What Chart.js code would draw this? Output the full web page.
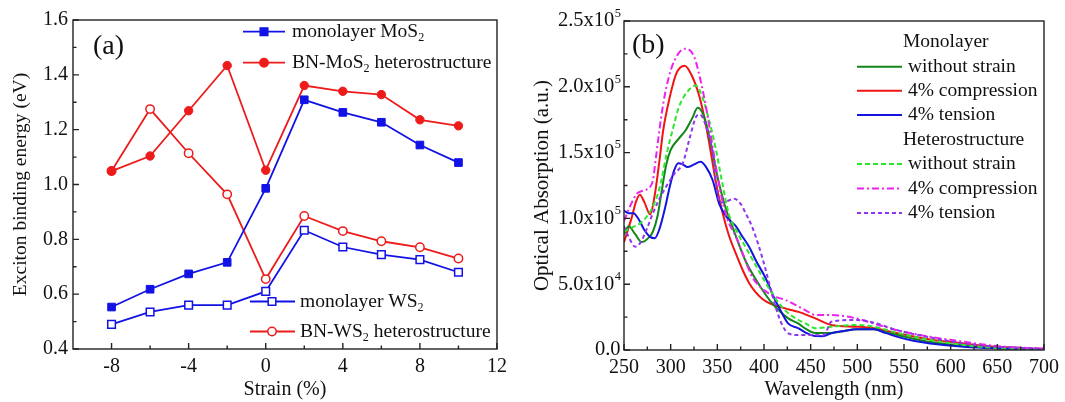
<!DOCTYPE html>
<html><head><meta charset="utf-8">
<script src="https://cdn.jsdelivr.net/npm/chart.js@4.4.1/dist/chart.umd.min.js"></script>
<style>
html,body{margin:0;padding:0;background:#fff;width:1065px;height:402px;overflow:hidden}
#ca{position:absolute;left:0;top:0}
#cb{position:absolute;left:530px;top:0}
</style></head><body>
<canvas id="ca" width="530" height="402"></canvas>
<canvas id="cb" width="535" height="402"></canvas>
<script>
// ---------- Panel (a) data ----------
const strain = [-8, -6, -4, -2, 0, 2, 4, 6, 8, 10];
const monoMoS2 = [0.553, 0.618, 0.674, 0.716, 0.986, 1.309, 1.263, 1.227, 1.144, 1.08];
const bnMoS2   = [1.049, 1.104, 1.269, 1.434, 1.052, 1.361, 1.340, 1.328, 1.236, 1.214];
const monoWS2  = [0.49, 0.535, 0.56, 0.56, 0.61, 0.833, 0.772, 0.744, 0.726, 0.68];
const bnWS2    = [1.049, 1.275, 1.114, 0.964, 0.655, 0.885, 0.830, 0.793, 0.771, 0.730];
const xMajorA = [-8, -4, 0, 4, 8, 12];
const xMinorA = [-6, -2, 2, 6, 10];
const yMajorA = [0.4, 0.6, 0.8, 1.0, 1.2, 1.4, 1.6];
const yMinorA = [0.5, 0.7, 0.9, 1.1, 1.3, 1.5];

// ---------- Panel (b) data (absorption in units of 1e3) ----------
const wlMonoFree = [250,255,262,269,276,281,286,290,295,300,308,316,323,329,336,343,350,358,366,380,390,398,407,416,426,437,445,455,472,486,499,518,530,543,560,578,596,614,630,649,670,700];
const abMonoFree = [88,94,88,82,85,90,102,119,140,152,160,167,176,184,177,157,132,110,94,68,55,46,37,30,24,20,16,13,13,14.5,15.7,15.7,13.5,11.4,8.5,6,4.5,3.3,2.2,1.3,0.8,0.5];
const wlMonoComp = [250,258,263,267,272,278,283,288,292,299,306,315,323,331,338,345,348,355,362,370,377,384,391,398,406,416,426,437,455,472,499,518,543,578,614,649,700];
const abMonoComp = [82,100,113,118,112,103,118,144,167,192,210,216,208,192,170,142,129,106,88,73,61,51,44,39,35.5,33,31,29,24,19,17.7,16.5,12.7,8,5,2.5,1];
const wlMonoTens = [250,255,260,266,272,278,283,288,294,299,304,308,313,318,325,332,338,345,352,360,370,377,384,392,401,412,420,426,437,445,455,463,472,486,499,518,530,543,560,578,614,649,700];
const abMonoTens = [106,104,104,99,91,86,85,92,108,124,137,142,141,139,141,143,139,129,111,101,94,86,78.5,67,55.7,38,27,20,16.5,13,10.6,10.5,12.7,14.5,15.7,15.7,13,10,7,5,2.5,1.3,0.5];
const wlHetFree = [250,258,267,275,281,286,290,296,302,309,320,327,334,341,348,355,362,371,380,389,398,407,416,426,437,445,455,472,499,518,543,578,614,649,700];
const abHetFree = [90,93,96,102,109,118,129,150,167,185,198,201,192,175,154,128,104,90,78.5,67,55.7,45,35.5,28,22.8,20,16.5,17.7,19,17.7,13,7.6,3.8,1.5,0.5];
const wlHetComp = [250,257,264,270,278,281,284,287,292,299,308,316,325,332,339,346,352,360,370,378,387,396,405,414,423,437,445,455,472,499,518,543,578,614,649,700];
const abHetComp = [98,110,119,121,124,129,145,162,187,210,225,229,223,205,180,150,125,101,86,72,56,48,43,40,38,33,30,26.6,26.6,24,20,15,10,6.3,3,1];
const wlHetTens = [250,255,262,268,275,281,288,295,304,313,320,327,331,338,345,349,353,360,368,375,381,387,394,401,408,416,421,426,437,455,463,468,472,499,518,543,578,614,649,700];
const abHetTens = [94,86,78.5,82,93,104,115,124,134,142,160,177,179,170,150,125,112,113,115,111,103,94,80,63,44,25,17,12.7,11.4,11.4,11,16,21.5,22.8,20.7,15,9.6,5,2.5,1];
const xMajorB = [250,300,350,400,450,500,550,600,650,700];
const xMinorB = [275,325,375,425,475,525,575,625,675];
const yMajorB = [0, 50000, 100000, 150000, 200000, 250000];
const yMinorB = [25000, 75000, 125000, 175000, 225000];
const yTickMantB = ['0.0', '5.0x10', '1.0x10', '1.5x10', '2.0x10', '2.5x10'];
const yTickExpB  = ['', '4', '5', '5', '5', '5'];

const SERIF = "'Liberation Serif','Times New Roman',serif";
Chart.defaults.font.family = SERIF;
Chart.defaults.color = '#111';
Chart.defaults.animation = false;

const BLUE = '#1212e6', RED = '#ee1b1b';
const pts = (xs, ys, k) => xs.map((x, i) => ({x, y: ys[i] * (k || 1)}));

function drawFrame(chart, xMaj, xMin, yMaj, yMin) {
  const {ctx, chartArea: a, scales: {x, y}} = chart;
  ctx.save();
  ctx.strokeStyle = '#222'; ctx.lineWidth = 1.4;
  ctx.strokeRect(a.left, a.top, a.right - a.left, a.bottom - a.top);
  ctx.beginPath();
  xMaj.forEach(v => { const p = x.getPixelForValue(v); ctx.moveTo(p, a.bottom); ctx.lineTo(p, a.bottom - 6); });
  xMin.forEach(v => { const p = x.getPixelForValue(v); ctx.moveTo(p, a.bottom); ctx.lineTo(p, a.bottom - 3.5); });
  yMaj.forEach(v => { const p = y.getPixelForValue(v); ctx.moveTo(a.left, p); ctx.lineTo(a.left + 6, p); });
  yMin.forEach(v => { const p = y.getPixelForValue(v); ctx.moveTo(a.left, p); ctx.lineTo(a.left + 3.5, p); });
  ctx.stroke();
  ctx.restore();
}

function richText(ctx, parts, x, y, size) {
  let cx = x;
  ctx.textAlign = 'left'; ctx.textBaseline = 'middle';
  parts.forEach(p => {
    if (p.sub) { ctx.font = (size * 0.62) + 'px ' + SERIF; ctx.fillText(p.t, cx, y + size * 0.33); }
    else { ctx.font = size + 'px ' + SERIF; ctx.fillText(p.t, cx, y); }
    cx += ctx.measureText(p.t).width;
  });
}

function marker(ctx, type, x, y, color) {
  ctx.save();
  ctx.lineWidth = 1.5; ctx.strokeStyle = color; ctx.setLineDash([]);
  ctx.fillStyle = (type === 'osq' || type === 'oci') ? '#fff' : color;
  ctx.beginPath();
  if (type === 'sq' || type === 'osq') ctx.rect(x - 3.8, y - 3.8, 7.6, 7.6);
  else ctx.arc(x, y, 4.2, 0, Math.PI * 2);
  ctx.fill(); ctx.stroke();
  ctx.restore();
}

const legendA = [
  {parts: [{t: 'monolayer MoS'}, {t: '2', sub: 1}], color: BLUE, m: 'sq', y: 31.7, x0: 243, x1: 285, mx: 264, tx: 292},
  {parts: [{t: 'BN-MoS'}, {t: '2', sub: 1}, {t: ' heterostructure'}], color: RED, m: 'ci', y: 62.7, x0: 243, x1: 285, mx: 264, tx: 292},
  {parts: [{t: 'monolayer WS'}, {t: '2', sub: 1}], color: BLUE, m: 'osq', y: 301.5, x0: 250, x1: 295, mx: 272, tx: 300},
  {parts: [{t: 'BN-WS'}, {t: '2', sub: 1}, {t: ' heterostructure'}], color: RED, m: 'oci', y: 331.5, x0: 250, x1: 295, mx: 272, tx: 300},
];

const pluginA = {
  id: 'decoA',
  afterDatasetsDraw(chart) { drawFrame(chart, xMajorA, xMinorA, yMajorA, yMinorA); },
  afterDraw(chart) {
    const ctx = chart.ctx;
    ctx.save();
    legendA.forEach(it => {
      ctx.strokeStyle = it.color; ctx.lineWidth = 1.8; ctx.setLineDash([]);
      ctx.beginPath(); ctx.moveTo(it.x0, it.y); ctx.lineTo(it.x1, it.y); ctx.stroke();
      marker(ctx, it.m, it.mx, it.y, it.color);
      ctx.fillStyle = '#111';
      richText(ctx, it.parts, it.tx, it.y, 19.5);
    });
    ctx.fillStyle = '#111'; ctx.font = '28px ' + SERIF; ctx.textBaseline = 'middle'; ctx.textAlign = 'left';
    ctx.fillText('(a)', 93, 47);
    ctx.restore();
  }
};

new Chart(document.getElementById('ca'), {
  type: 'line',
  data: {
    datasets: [
      {label: 'monolayer MoS2', data: pts(strain, monoMoS2), borderColor: BLUE, backgroundColor: BLUE,
       pointStyle: 'rect', pointRadius: 5.4, pointBorderWidth: 1, pointBackgroundColor: BLUE, borderWidth: 1.8},
      {label: 'BN-MoS2 heterostructure', data: pts(strain, bnMoS2), borderColor: RED, backgroundColor: RED,
       pointStyle: 'circle', pointRadius: 4.2, pointBorderWidth: 1, pointBackgroundColor: RED, borderWidth: 1.8},
      {label: 'monolayer WS2', data: pts(strain, monoWS2), borderColor: BLUE,
       pointStyle: 'rect', pointRadius: 5.4, pointBorderWidth: 1.5, pointBackgroundColor: '#fff', borderWidth: 1.8},
      {label: 'BN-WS2 heterostructure', data: pts(strain, bnWS2), borderColor: RED,
       pointStyle: 'circle', pointRadius: 4.2, pointBorderWidth: 1.5, pointBackgroundColor: '#fff', borderWidth: 1.8},
    ]
  },
  options: {
    responsive: false,
    layout: {padding: {top: 20, right: 33, left: 0, bottom: 0}},
    plugins: {legend: {display: false}, tooltip: {enabled: false}},
    elements: {line: {tension: 0}},
    scales: {
      x: {type: 'linear', min: -10, max: 12,
          afterBuildTicks: ax => { ax.ticks = xMajorA.map(v => ({value: v})); },
          afterFit: ax => { ax.height = 53; },
          grid: {display: false, drawTicks: false}, border: {display: false},
          ticks: {font: {size: 20}, color: '#111', padding: 6, maxRotation: 0, callback: v => String(v)},
          title: {display: true, text: 'Strain (%)', font: {size: 20}, color: '#111', padding: {top: 0, bottom: 0}}},
      y: {type: 'linear', min: 0.4, max: 1.6,
          afterBuildTicks: ax => { ax.ticks = yMajorA.map(v => ({value: v})); },
          afterFit: ax => { ax.width = 73; },
          grid: {display: false, drawTicks: false}, border: {display: false},
          ticks: {font: {size: 20}, color: '#111', padding: 5, callback: v => Number(v).toFixed(1)},
          title: {display: true, text: 'Exciton binding energy (eV)', font: {size: 19.5}, color: '#111', padding: {top: 9, bottom: 0}}}
    }
  },
  plugins: [pluginA]
});

// ---------- Panel (b) ----------
const C_GREEN = '#13851a', C_RED = '#f01515', C_BLUE = '#1414e0', C_LGREEN = '#2ee62e', C_MAG = '#ee22ee', C_PUR = '#9035ee';
const DASH_LG = [5, 3], DASH_MAG = [7, 3, 2, 3], DASH_PUR = [4, 3];

const legendB = [
  {head: 'Monolayer', y: 41.7},
  {text: 'without strain', color: C_GREEN, dash: [], y: 66.7},
  {text: '4% compression', color: C_RED, dash: [], y: 90.7},
  {text: '4% tension', color: C_BLUE, dash: [], y: 115},
  {head: 'Heterostructure', y: 140},
  {text: 'without strain', color: C_LGREEN, dash: DASH_LG, y: 164},
  {text: '4% compression', color: C_MAG, dash: DASH_MAG, y: 188.5},
  {text: '4% tension', color: C_PUR, dash: DASH_PUR, y: 213},
];

const pluginB = {
  id: 'decoB',
  afterDatasetsDraw(chart) { drawFrame(chart, xMajorB, xMinorB, yMajorB, yMinorB); },
  afterDraw(chart) {
    const ctx = chart.ctx, a = chart.chartArea, y = chart.scales.y;
    ctx.save();
    ctx.fillStyle = '#111'; ctx.textBaseline = 'middle';
    const xr = a.left - 3;
    yMajorB.forEach((v, i) => {
      const py = y.getPixelForValue(v);
      let supW = 0;
      if (yTickExpB[i]) {
        ctx.font = '12.5px ' + SERIF; supW = ctx.measureText(yTickExpB[i]).width;
        ctx.textAlign = 'left'; ctx.fillText(yTickExpB[i], xr - supW, py - 7.5);
      }
      ctx.font = '20.5px ' + SERIF; ctx.textAlign = 'right';
      ctx.fillText(yTickMantB[i], xr - supW - 0.5, py);
    });
    const lx0 = 857 - 530, lx1 = 902 - 530, tx = 908 - 530, hx = 903 - 530;
    legendB.forEach(it => {
      ctx.fillStyle = '#111';
      if (it.head) { ctx.font = '19.5px ' + SERIF; ctx.textAlign = 'left'; ctx.fillText(it.head, hx, it.y); return; }
      ctx.strokeStyle = it.color; ctx.lineWidth = 2; ctx.setLineDash(it.dash);
      ctx.beginPath(); ctx.moveTo(lx0, it.y); ctx.lineTo(lx1, it.y); ctx.stroke();
      ctx.setLineDash([]);
      ctx.font = '19.5px ' + SERIF; ctx.textAlign = 'left'; ctx.fillText(it.text, tx, it.y);
    });
    ctx.font = '28px ' + SERIF; ctx.textAlign = 'left';
    ctx.fillText('(b)', 632 - 530, 46);
    ctx.restore();
  }
};

const lineDs = (label, xs, ys, color, dash) => ({
  label, data: pts(xs, ys, 1000), borderColor: color, borderWidth: 2, borderDash: dash,
  pointRadius: 0, cubicInterpolationMode: 'monotone', fill: false
});

new Chart(document.getElementById('cb'), {
  type: 'line',
  data: {
    datasets: [
      lineDs('Heterostructure 4% tension', wlHetTens, abHetTens, C_PUR, DASH_PUR),
      lineDs('Heterostructure 4% compression', wlHetComp, abHetComp, C_MAG, DASH_MAG),
      lineDs('Heterostructure without strain', wlHetFree, abHetFree, C_LGREEN, DASH_LG),
      lineDs('Monolayer 4% tension', wlMonoTens, abMonoTens, C_BLUE, []),
      lineDs('Monolayer without strain', wlMonoFree, abMonoFree, C_GREEN, []),
      lineDs('Monolayer 4% compression', wlMonoComp, abMonoComp, C_RED, []),
    ]
  },
  options: {
    responsive: false,
    layout: {padding: {top: 21, right: 17, left: 0, bottom: 0}},
    plugins: {legend: {display: false}, tooltip: {enabled: false}},
    scales: {
      x: {type: 'linear', min: 250, max: 700,
          afterBuildTicks: ax => { ax.ticks = xMajorB.map(v => ({value: v})); },
          afterFit: ax => { ax.height = 52; },
          grid: {display: false, drawTicks: false}, border: {display: false},
          ticks: {font: {size: 20}, color: '#111', padding: 6, maxRotation: 0, callback: v => String(v)},
          title: {display: true, text: 'Wavelength (nm)', font: {size: 20}, color: '#111', padding: {top: 0, bottom: 0}}},
      y: {type: 'linear', min: 0, max: 250000,
          afterBuildTicks: ax => { ax.ticks = yMajorB.map(v => ({value: v})); },
          afterFit: ax => { ax.width = 94; },
          grid: {display: false, drawTicks: false}, border: {display: false},
          ticks: {display: false},
          title: {display: true, text: 'Optical Absorption (a.u.)', font: {size: 21}, color: '#111', padding: {top: 0, bottom: 0}}}
    }
  },
  plugins: [pluginB]
});
</script>
</body></html>
